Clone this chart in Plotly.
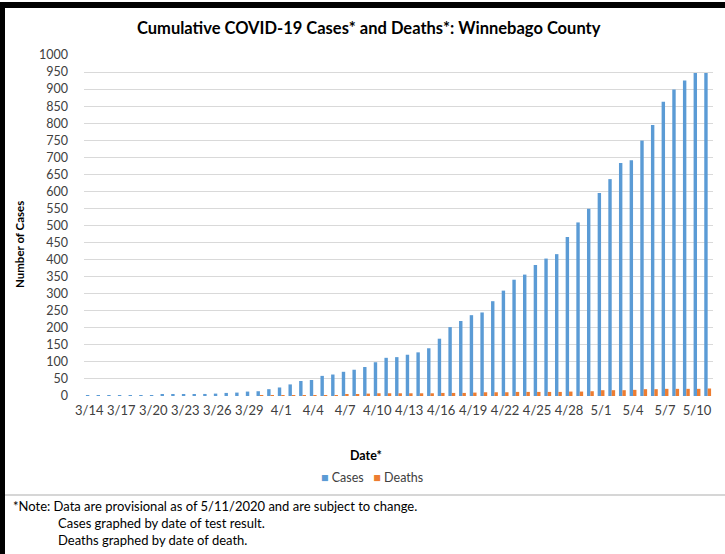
import plotly.graph_objects as go

dates = ["3/14", "3/15", "3/16", "3/17", "3/18", "3/19", "3/20", "3/21", "3/22", "3/23",
         "3/24", "3/25", "3/26", "3/27", "3/28", "3/29", "3/30", "3/31",
         "4/1", "4/2", "4/3", "4/4", "4/5", "4/6", "4/7", "4/8", "4/9", "4/10",
         "4/11", "4/12", "4/13", "4/14", "4/15", "4/16", "4/17", "4/18", "4/19", "4/20",
         "4/21", "4/22", "4/23", "4/24", "4/25", "4/26", "4/27", "4/28", "4/29", "4/30",
         "5/1", "5/2", "5/3", "5/4", "5/5", "5/6", "5/7", "5/8", "5/9", "5/10", "5/11"]

cases = [1, 1, 1, 1, 1, 1, 1, 3, 3, 4,
         5, 6, 7, 9, 10, 13, 14, 20,
         25, 34, 44, 47, 59, 63, 71, 77, 85, 99,
         112, 114, 121, 128, 140, 168, 202, 220, 237, 245,
         278, 309, 341, 356, 384, 403, 416, 466, 509, 549,
         595, 636, 683, 691, 749, 795, 863, 899, 925, 947, 947]

deaths = [0, 0, 0, 0, 0, 0, 0, 0, 0, 0,
          0, 0, 0, 0, 0, 0, 1, 1,
          1, 1, 1, 1, 1, 2, 3, 5, 7, 8,
          8, 8, 8, 8, 8, 9, 9, 9, 10, 11,
          11, 11, 12, 12, 12, 12, 12, 13, 13, 14,
          17, 17, 17, 18, 20, 20, 21, 21, 21, 21, 22]

tick_labels = dates[::3]
y_ticks = list(range(0, 1001, 50))

series_names = ["Cases", "Deaths"]
series_colors = ["#5B9BD5", "#ED7D31"]

title_text = "Cumulative COVID-19 Cases* and Deaths*: Winnebago County"
note_lines = ["*Note: Data are provisional as of 5/11/2020 and are subject to change.",
              "Cases graphed by date of test result.",
              "Deaths graphed by date of death."]

W, H = 725, 554
L, R, T, B = 84, 713, 55, 396
FONT = "Lato"


def px(xp):
    return (xp - L) / (R - L)


def py(yp):
    return (B - yp) / (B - T)


fig = go.Figure()
for name, vals, col in zip(series_names, [cases, deaths], series_colors):
    fig.add_trace(go.Bar(x=dates, y=vals, name=name, marker_color=col,
                         marker_line_width=0))

legend_html = ("<span style='color:%s'>■</span> %s" % (series_colors[0], series_names[0])
               + "&nbsp;&nbsp;&nbsp;"
               + "<span style='color:%s'>■</span> %s" % (series_colors[1], series_names[1]))

annotations = [
    dict(text="<b>" + title_text + "</b>", x=px(369), y=py(28), xref="paper", yref="paper",
         showarrow=False, xanchor="center", yanchor="middle",
         font=dict(family=FONT, size=16.5, color="#000000")),
    dict(text="<b>Number of Cases</b>", x=px(20), y=py(245), xref="paper", yref="paper",
         showarrow=False, xanchor="center", yanchor="middle", textangle=-90,
         font=dict(family=FONT, size=11.5, color="#000000")),
    dict(text="<b>Date*</b>", x=px(366), y=py(455), xref="paper", yref="paper",
         showarrow=False, xanchor="center", yanchor="middle",
         font=dict(family=FONT, size=12.5, color="#000000")),
    dict(text=legend_html, x=px(372), y=py(477), xref="paper", yref="paper",
         showarrow=False, xanchor="center", yanchor="middle",
         font=dict(family=FONT, size=12.5, color="#404040")),
    dict(text=note_lines[0], x=px(11), y=py(506), xref="paper", yref="paper",
         showarrow=False, xanchor="left", yanchor="middle",
         font=dict(family=FONT, size=13, color="#000000")),
    dict(text=note_lines[1], x=px(56), y=py(523), xref="paper", yref="paper",
         showarrow=False, xanchor="left", yanchor="middle",
         font=dict(family=FONT, size=13, color="#000000")),
    dict(text=note_lines[2], x=px(56), y=py(540), xref="paper", yref="paper",
         showarrow=False, xanchor="left", yanchor="middle",
         font=dict(family=FONT, size=13, color="#000000")),
]

shapes = [
    dict(type="rect", xref="paper", yref="paper", x0=px(0), x1=px(5), y0=py(H), y1=py(2),
         fillcolor="#000000", line_width=0, layer="above"),
    dict(type="rect", xref="paper", yref="paper", x0=px(0), x1=px(W), y0=py(8), y1=py(2),
         fillcolor="#000000", line_width=0, layer="above"),
    dict(type="line", xref="paper", yref="paper", x0=px(5), x1=px(W), y0=py(495), y1=py(495),
         line=dict(color="#c8c8c8", width=1.5)),
]

fig.update_layout(
    width=W, height=H,
    margin=dict(l=L, r=W - R, t=T, b=H - B, pad=0),
    paper_bgcolor="#ffffff", plot_bgcolor="#ffffff",
    barmode="group", bargap=0.36, bargroupgap=0.0,
    font=dict(family=FONT, size=12, color="#404040"),
    showlegend=False,
    annotations=annotations,
    shapes=shapes,
)

fig.update_xaxes(type="category", tickmode="array", tickvals=tick_labels, ticktext=tick_labels,
                 showgrid=False, zeroline=False, showline=False, ticks="",
                 ticklabelstandoff=5, tickfont=dict(family=FONT, size=13, color="#404040"),
                 tickangle=0)
fig.update_yaxes(range=[0, 1000], tickmode="array", tickvals=y_ticks,
                 showgrid=True, gridcolor="#d9d9d9", gridwidth=1, zeroline=False,
                 showline=False, ticks="", ticklabelstandoff=15,
                 tickfont=dict(family=FONT, size=12.5, color="#404040"))

fig.write_html("out.html", config={"displayModeBar": False},
               post_script="document.body.style.margin='0px';document.body.style.padding='0px';")
